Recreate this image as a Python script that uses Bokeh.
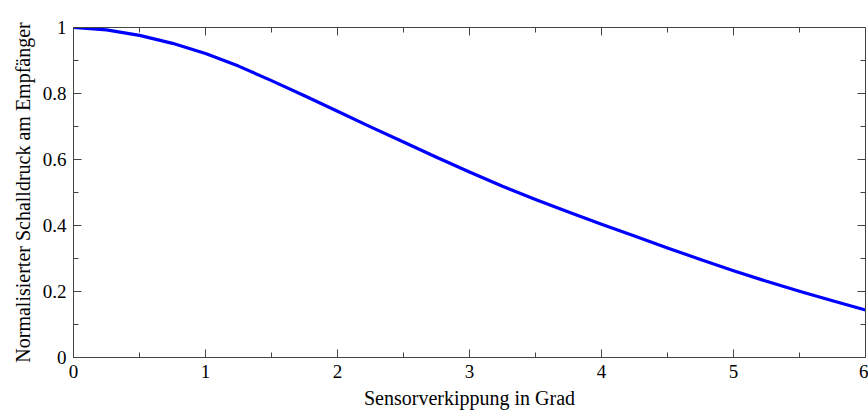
from bokeh.plotting import figure
from bokeh.models import Range1d, LinearAxis, FixedTicker
from bokeh.embed import file_html
from bokeh.resources import INLINE

# Data
tilt_deg = [0, 0.25, 0.5, 0.75, 1.0, 1.25, 1.5, 1.75, 2.0, 2.25, 2.5, 2.75, 3.0,
            3.25, 3.5, 3.75, 4.0, 4.25, 4.5, 4.75, 5.0, 5.25, 5.5, 5.75, 6.0]
pressure = [1.000, 0.993, 0.976, 0.952, 0.921, 0.883, 0.839, 0.793, 0.746, 0.699, 0.653, 0.607, 0.562,
            0.519, 0.479, 0.441, 0.404, 0.368, 0.332, 0.297, 0.263, 0.231, 0.201, 0.172, 0.144]

x_ticks = [0, 1, 2, 3, 4, 5, 6]
x_minor = [0.5, 1.5, 2.5, 3.5, 4.5, 5.5]
y_ticks = [0, 0.2, 0.4, 0.6, 0.8, 1]
y_tick_labels = ["0", "0.2", "0.4", "0.6", "0.8", "1"]
y_minor = [0.1, 0.3, 0.5, 0.7, 0.9]

x_label = "Sensorverkippung in Grad"
y_label = "Normalisierter Schalldruck am Empfänger"

FONT = "Liberation Serif"
AXC = "#444444"

p = figure(width=868, height=412, output_backend="svg", toolbar_location=None,
           x_range=Range1d(0, 6), y_range=Range1d(0, 1),
           x_axis_location=None, y_axis_location=None,
           min_border_left=73, min_border_right=3, min_border_top=27, min_border_bottom=55)
p.outline_line_color = None
p.background_fill_color = "white"
p.border_fill_color = "white"
p.xgrid.visible = False
p.ygrid.visible = False

p.line(tilt_deg, pressure, line_color="#0000ff", line_width=3.2, line_join="round")

def style(ax, ticks, minor, labels=True):
    ax.ticker = FixedTicker(ticks=ticks, minor_ticks=minor)
    ax.axis_line_color = AXC
    ax.axis_line_width = 1
    ax.major_tick_line_color = AXC
    ax.minor_tick_line_color = AXC
    ax.major_tick_in = 8
    ax.major_tick_out = 0
    ax.minor_tick_in = 5
    ax.minor_tick_out = 0
    ax.major_label_text_font = FONT
    ax.axis_label_text_font = FONT
    ax.axis_label_text_font_style = "normal"
    ax.major_label_text_color = "black"
    ax.axis_label_text_color = "black"
    if labels:
        ax.major_label_text_font_size = "19px"
        ax.axis_label_text_font_size = "20px"
        ax.major_label_standoff = 7
        ax.axis_label_standoff = 6
    else:
        ax.major_label_text_font_size = "0px"
        ax.major_label_standoff = 0
        ax.major_label_text_alpha = 0

xb = LinearAxis(axis_label=x_label)
style(xb, x_ticks, x_minor)
p.add_layout(xb, "below")

yl = LinearAxis(axis_label=y_label)
style(yl, y_ticks, y_minor)
yl.major_label_overrides = dict(zip(y_ticks, y_tick_labels))
p.add_layout(yl, "left")

xt = LinearAxis()
style(xt, x_ticks, x_minor, labels=False)
p.add_layout(xt, "above")

yr = LinearAxis()
style(yr, y_ticks, y_minor, labels=False)
p.add_layout(yr, "right")

open("out.html", "w").write(file_html(p, INLINE))
